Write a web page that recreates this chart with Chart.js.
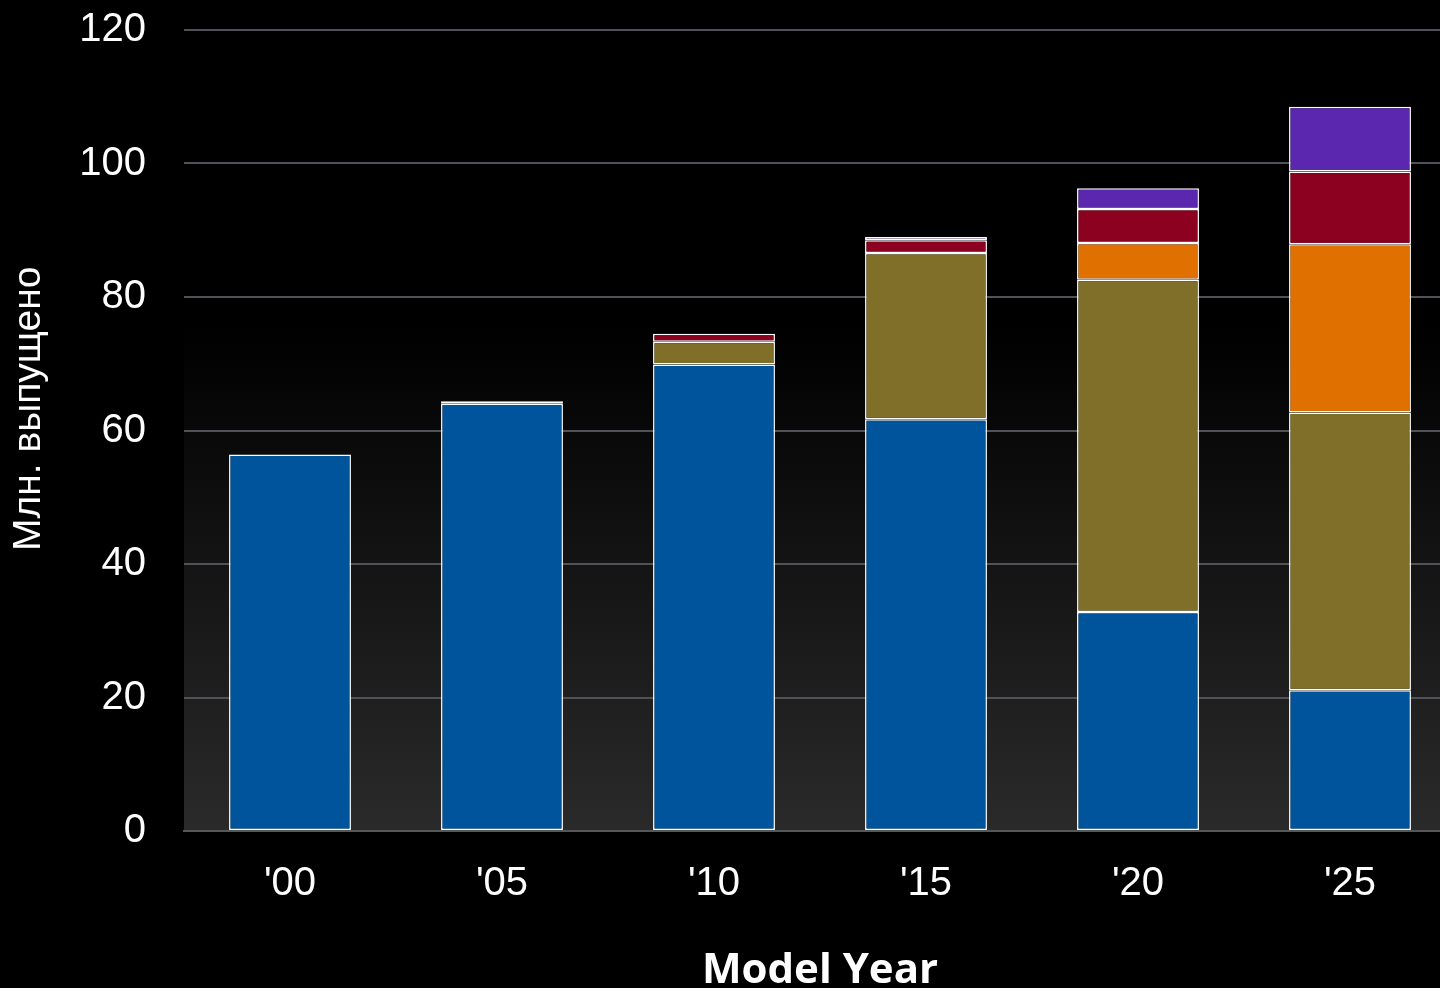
<!DOCTYPE html>
<html lang="ru">
<head>
<meta charset="utf-8">
<title>Model Year</title>
<script src="https://cdn.jsdelivr.net/npm/chart.js@4.4.1/dist/chart.umd.min.js"></script>
<style>
  html, body {
    margin: 0;
    padding: 0;
    background: #000;
    overflow: hidden;
  }
  #wrap {
    position: absolute;
    left: 0;
    top: 0;
    width: 1456px;
    height: 988px;
  }
</style>
</head>
<body>
<div id="wrap"><canvas id="yearChart"></canvas></div>
<script>
// Model years on the x axis
const years = ["'00", "'05", "'10", "'15", "'20", "'25"];

// Millions produced per segment, bottom to top
const blueValues   = [56.4, 64.0, 69.9, 61.7, 32.8, 21.1];
const oliveValues  = [0, 0.4, 3.4, 24.9, 49.8, 41.6];
const orangeValues = [0, 0, 0, 0, 5.5, 25.2];
const redValues    = [0, 0, 1.2, 1.9, 5.1, 10.9];
const purpleValues = [0, 0, 0, 0.5, 3.1, 9.7];

const yTicks = [0, 20, 40, 60, 80, 100, 120];

const SEGMENT_COLORS = ['#00549B', '#7F6F28', '#E07000', '#8C0020', '#5B27AE'];
const TICK_FONT = { family: "'Liberation Sans', Arial, sans-serif", size: 40 };

/**
 * Dark gradient behind the plot area
 */
const plotBackground = {
  id: 'plotBackground',
  beforeDraw(chart) {
    const { ctx, chartArea } = chart;
    if (!chartArea) return;
    const { left, top, right, bottom } = chartArea;
    const grad = ctx.createLinearGradient(0, top, 0, bottom);
    grad.addColorStop(0, '#000000');
    grad.addColorStop(0.37, '#000000');
    grad.addColorStop(1, '#2a2a2a');
    ctx.save();
    ctx.fillStyle = grad;
    ctx.fillRect(left, top, right - left, bottom - top);
    ctx.restore();
  },
};

function segment(values, idx) {
  return {
    data: values,
    backgroundColor: SEGMENT_COLORS[idx],
    borderColor: '#ffffff',
    borderWidth: 1.5,
    borderSkipped: false,
    categoryPercentage: 1,
    barPercentage: 0.575,
  };
}

const ctx = document.getElementById('yearChart').getContext('2d');

new Chart(ctx, {
  type: 'bar',
  data: {
    labels: years,
    datasets: [
      segment(blueValues, 0),
      segment(oliveValues, 1),
      segment(orangeValues, 2),
      segment(redValues, 3),
      segment(purpleValues, 4),
    ],
  },
  options: {
    responsive: true,
    maintainAspectRatio: false,
    animation: false,
    layout: { padding: { top: 30, right: 0, bottom: 0, left: 0 } },
    plugins: {
      legend: { display: false },
      tooltip: { enabled: false },
    },
    scales: {
      x: {
        stacked: true,
        z: 1,
        grid: { display: false, drawTicks: false },
        border: { display: true, color: '#55585b', width: 2 },
        ticks: { color: '#ffffff', font: TICK_FONT, padding: 29 },
        title: {
          display: true,
          text: 'Model Year',
          color: '#ffffff',
          font: { family: "'Open Sans', sans-serif", size: 42, weight: 'bold', lineHeight: 0.8 },
          padding: { top: 0, bottom: 0 },
        },
        afterFit(scale) {
          scale.height = 157;
        },
      },
      y: {
        stacked: true,
        min: 0,
        max: 120,
        afterBuildTicks(scale) {
          scale.ticks = yTicks.map(v => ({ value: v }));
        },
        // invisible tick marks keep the labels clear of the plot
        grid: { color: '#4f5357', lineWidth: 2, drawTicks: true, tickLength: 38, tickColor: 'rgba(0,0,0,0)' },
        border: { display: false },
        ticks: { color: '#ffffff', font: TICK_FONT, padding: 0 },
        title: {
          display: true,
          // leading spaces nudge the label up towards the canvas middle
          text: '    Млн. выпущено',
          color: '#ffffff',
          font: { family: "'Liberation Sans', Arial, sans-serif", size: 39 },
          padding: { top: 6, bottom: 0 },
        },
        afterFit(scale) {
          scale.width = 184;
        },
      },
    },
  },
  plugins: [plotBackground],
});
</script>
</body>
</html>
